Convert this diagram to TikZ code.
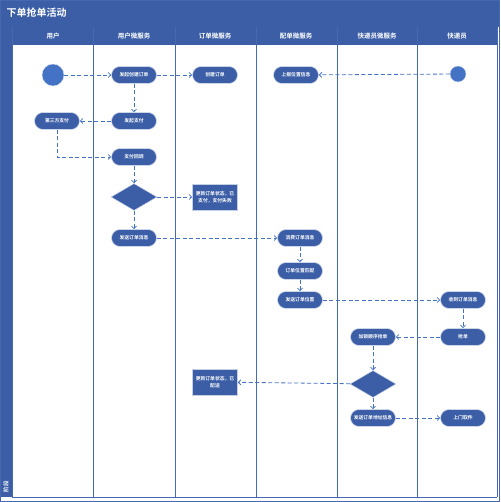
\documentclass[tikz,border=0pt]{standalone}
\usepackage{fontspec}
\setmainfont{Noto Sans CJK SC}[BoldFont={Noto Sans CJK SC Bold}]
\usetikzlibrary{shapes.geometric,arrows.meta}

\definecolor{laneblue}{RGB}{59,94,166}
\definecolor{flowblue}{RGB}{68,114,196}
\definecolor{edgeblue}{RGB}{70,104,176}

\begin{document}
\begin{tikzpicture}[x=1pt,y=-1pt]
  \tikzstyle{act}=[rectangle,rounded corners=8.5pt,fill=laneblue,draw=white!75!laneblue,line width=0.6pt,
    minimum width=45pt,minimum height=17pt,inner sep=1pt,text=white,font=\fontsize{4.8}{5}\bfseries\selectfont]
  \tikzstyle{note}=[rectangle,fill=laneblue,draw=white!70!laneblue,line width=0.6pt,
    minimum width=45pt,minimum height=26pt,inner sep=1pt,align=center,
    text=white,font=\fontsize{4.8}{7}\bfseries\selectfont]
  \tikzstyle{choice}=[diamond,fill=laneblue,draw=white!75!laneblue,line width=0.5pt,
    minimum width=46pt,minimum height=27pt,inner sep=0pt,aspect=1.7]
  \tikzstyle{start}=[circle,fill=flowblue,draw=white!80!flowblue,inner sep=0pt]
  \tikzstyle{flow}=[->,>={Straight Barb[length=2.5pt,width=5pt]},dashed,dash pattern=on 4pt off 2.5pt,
    flowblue,line width=0.8pt]
  \tikzstyle{lanehead}=[text=white,font=\fontsize{6.5}{7}\bfseries\selectfont]

  \useasboundingbox (0,0) rectangle (500,502);

  % frame and title
  \fill[laneblue] (0,0) rectangle (500,27);
  \fill[laneblue] (0,27) rectangle (12,497);
  \fill[laneblue] (12,27) rectangle (497,45);
  \draw[edgeblue,line width=0.8pt] (0.5,0.5) rectangle (499.5,501.5);
  \node[anchor=west,text=white,font=\fontsize{10}{11}\bfseries\selectfont] (title) at (3,13) {下单抢单活动};
  \node[rotate=90,anchor=west,text=white,font=\fontsize{5.5}{6}\bfseries\selectfont] (stage) at (6,496) {阶段};

  % lanes
  \foreach \lx in {12,93,175,256,337,417,497}
    \draw[edgeblue,line width=0.7pt] (\lx,27) -- (\lx,497);
  \draw[edgeblue,line width=0.7pt] (12,497) -- (497,497);
  \foreach \lx/\lname in {53/用户,134/用户微服务,215/订单微服务,296/配单微服务,377/快递员微服务,457/快递员}
    \node[lanehead] at (\lx,36) {\lname};

  % activities
  \node[start,minimum size=22pt] (s1) at (53,75) {};
  \node[act] (nco) at (134,75) {发起创建订单};
  \node[act] (ncr) at (215,75) {创建订单};
  \node[act] (nrep) at (296,75) {上报位置信息};
  \node[start,minimum size=16pt] (s2) at (458,74) {};

  \node[act] (npay) at (134,121) {发起支付};
  \node[act] (ntp) at (57,121) {第三方支付};
  \node[act] (ncb) at (134,157) {支付回调};
  \node[choice] (d1) at (134,197) {};
  \node[note] (nst1) at (215,197) {更新订单状态，已\\支付，支付失败};
  \node[act] (nsend) at (134,238) {发送订单消息};

  \node[act] (ncons) at (300,238) {消费订单消息};
  \node[act] (nmat) at (300,271) {订单位置匹配};
  \node[act] (npos) at (300,300) {发送订单位置};
  \node[act] (nrecv) at (463,300) {收到订单消息};
  \node[act] (ngrab) at (463,337) {抢单};
  \node[act] (nlock) at (373,337) {加锁顺序抢单};
  \node[choice] (d2) at (373,384) {};
  \node[note] (nst2) at (215,382) {更新订单状态，已\\配送};
  \node[act] (naddr) at (373,418) {发送订单地址信息};
  \node[act] (npick) at (463,418) {上门取件};

  % edges
  \draw[flow] (s1) -- (nco);
  \draw[flow] (nco) -- (ncr);
  \draw[flow] (s2) -- (nrep);
  \draw[flow] (nco) -- (npay);
  \draw[flow] (npay) -- (ntp);
  \draw[flow] (ntp) |- (ncb);
  \draw[flow] (ncb) -- (d1);
  \draw[flow] (d1) -- (nst1);
  \draw[flow] (d1) -- (nsend);
  \draw[flow] (nsend) -- (ncons);
  \draw[flow] (ncons) -- (nmat);
  \draw[flow] (nmat) -- (npos);
  \draw[flow] (npos) -- (nrecv);
  \draw[flow] (nrecv) -- (ngrab);
  \draw[flow] (ngrab) -- (nlock);
  \draw[flow] (nlock) -- (d2);
  \draw[flow] (d2) -- (nst2);
  \draw[flow] (d2) -- (naddr);
  \draw[flow] (naddr) -- (npick);

\end{tikzpicture}
\end{document}
